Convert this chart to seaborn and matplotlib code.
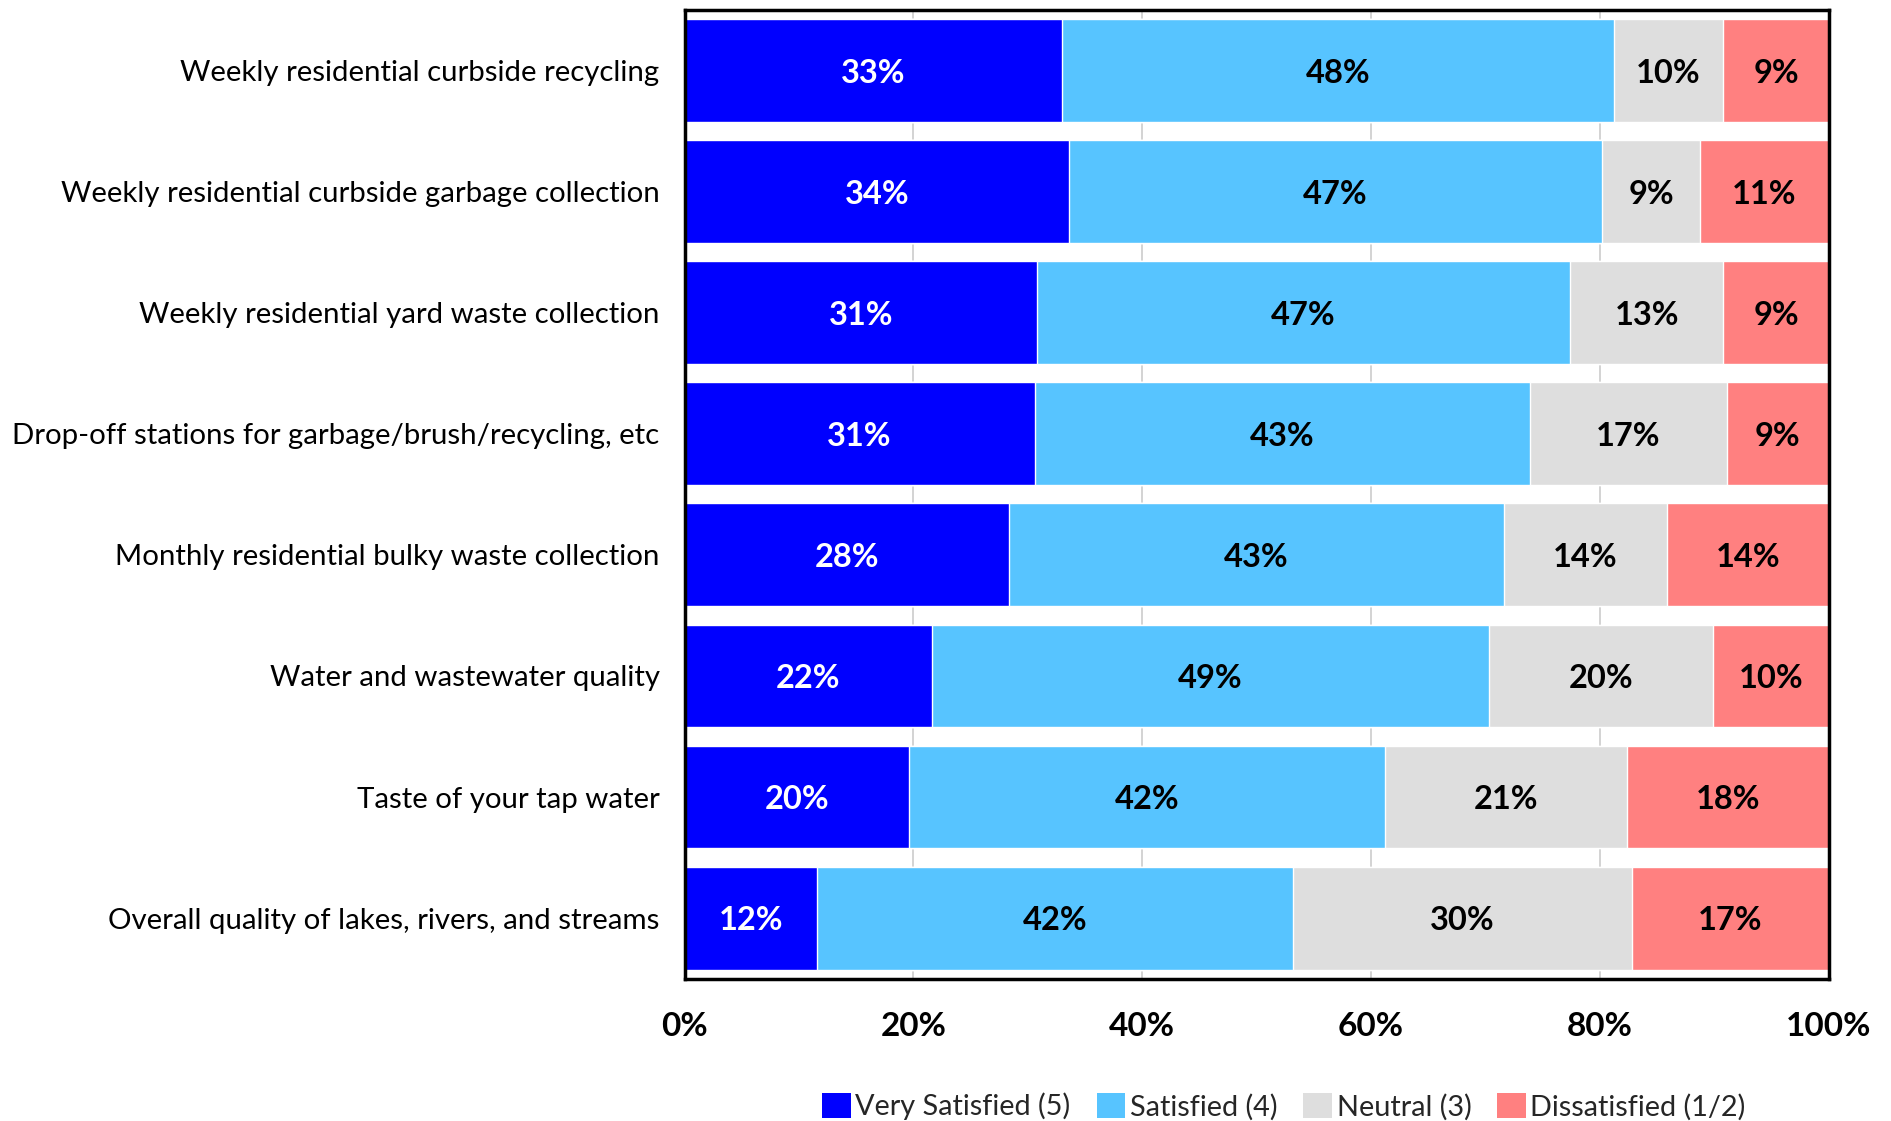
import matplotlib
matplotlib.use("Agg")
import matplotlib.pyplot as plt
import seaborn as sns
import pandas as pd
import numpy as np
from matplotlib.patches import Patch

services = [
    "Weekly residential curbside recycling",
    "Weekly residential curbside garbage collection",
    "Weekly residential yard waste collection",
    "Drop-off stations for garbage/brush/recycling, etc",
    "Monthly residential bulky waste collection",
    "Water and wastewater quality",
    "Taste of your tap water",
    "Overall quality of lakes, rivers, and streams",
]
very_satisfied = [33.0, 33.6, 30.8, 30.6, 28.4, 21.6, 19.6, 11.6]
satisfied = [48.2, 46.6, 46.6, 43.3, 43.2, 48.7, 41.6, 41.6]
neutral = [9.6, 8.6, 13.4, 17.2, 14.3, 19.6, 21.2, 29.6]
dissatisfied = [9.2, 11.2, 9.2, 8.9, 14.1, 10.1, 17.6, 17.2]

levels = ["Very Satisfied (5)", "Satisfied (4)", "Neutral (3)", "Dissatisfied (1/2)"]
colors = ["#0000FF", "#57C4FF", "#DEDEDE", "#FF8080"]
text_colors = ["white", "black", "black", "black"]
xticks = [0, 20, 40, 60, 80, 100]

sns.set_theme(style="white")
plt.rcParams["font.family"] = ["Lato", "DejaVu Sans"]

values = np.array([very_satisfied, satisfied, neutral, dissatisfied])
cumulative = np.cumsum(values, axis=0)

fig = plt.figure(figsize=(18.91, 11.21), dpi=100)
ax = fig.add_axes([0.362, 0.127, 0.605, 0.864])

# stacked bars: draw the running totals from the widest layer down
for i in range(len(levels) - 1, -1, -1):
    df = pd.DataFrame({"service": services, "total": cumulative[i]})
    sns.barplot(data=df, x="total", y="service", orient="h", color=colors[i],
                width=0.85, saturation=1, ax=ax, zorder=2)

for i in range(len(levels)):
    lefts = cumulative[i] - values[i]
    for j, v in enumerate(values[i]):
        ax.text(lefts[j] + v / 2, j, f"{v:.0f}%", ha="center",
                va="center_baseline", color=text_colors[i], fontsize=23.5,
                fontweight="bold", zorder=3)

ax.set_xlim(0, 100)
ax.set_ylim(len(services) - 0.5, -0.5)
ax.set_xticks(xticks)
ax.set_xticklabels([f"{t}%" for t in xticks], fontsize=24, fontweight="bold")
ax.set_xlabel("")
ax.set_ylabel("")
ax.tick_params(axis="y", labelsize=21.2, length=0, pad=18)
ax.tick_params(axis="x", length=0, pad=24)
for t in ax.get_yticklabels():
    t.set_color("black")
for t in ax.get_xticklabels():
    t.set_color("black")

ax.xaxis.grid(True, color="#CCCCCC", linewidth=1.2, zorder=0)
ax.set_axisbelow(True)
for s in ax.spines.values():
    s.set_visible(True)
    s.set_color("black")
    s.set_linewidth(2.5)

handles = [Patch(facecolor=c, edgecolor="none") for c in colors]
fig.legend(handles, levels, loc="center", bbox_to_anchor=(0.679, 0.013),
           ncol=4, frameon=False, fontsize=20.8, handlelength=1.0,
           handleheight=1.0, handletextpad=0.15, columnspacing=0.9)

fig.savefig("out.png", dpi=100)
